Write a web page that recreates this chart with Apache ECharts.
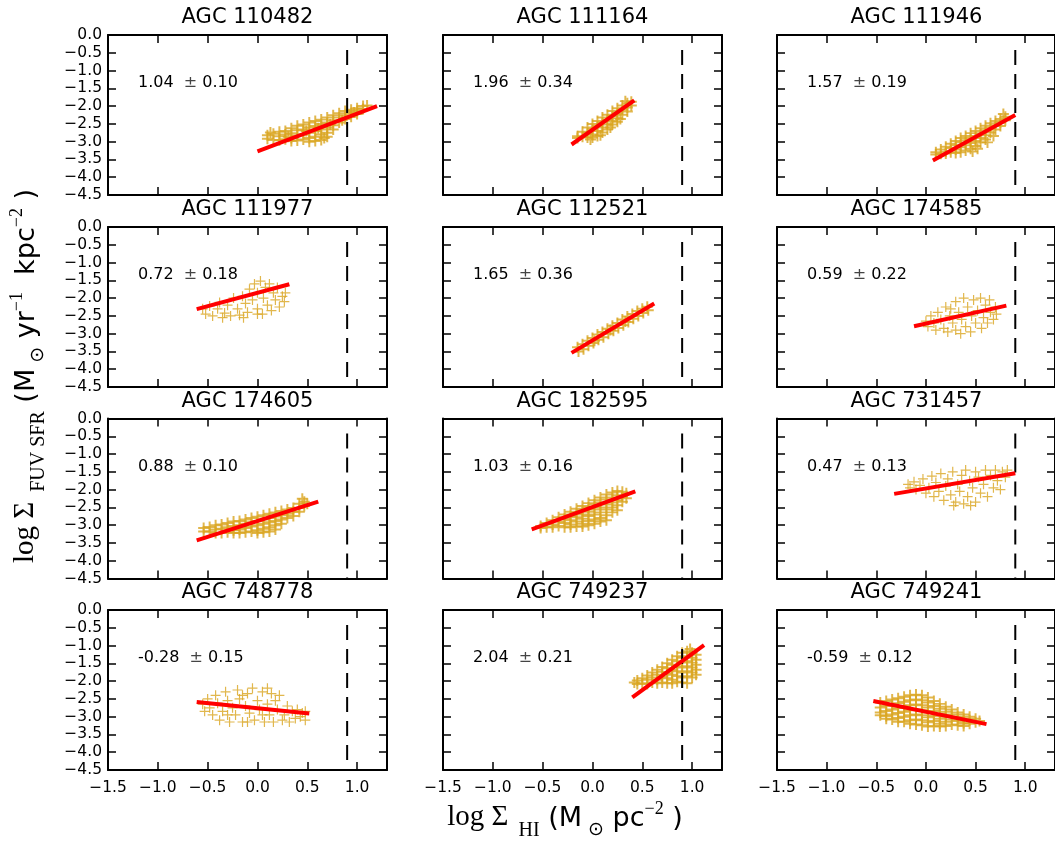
<!DOCTYPE html>
<html><head><meta charset="utf-8">
<script src="https://cdn.jsdelivr.net/npm/echarts@6/dist/echarts.min.js"></script>
<style>html,body{margin:0;padding:0;background:#fff}#c{width:1055px;height:846px}</style>
</head><body><div id="c"></div><script>
// ---------------- DATA ----------------
const galaxyNames = ['AGC 110482','AGC 111164','AGC 111946','AGC 111977','AGC 112521','AGC 174585',
  'AGC 174605','AGC 182595','AGC 731457','AGC 748778','AGC 749237','AGC 749241'];
const slopeValue = ['1.04','1.96','1.57','0.72','1.65','0.59','0.88','1.03','0.47','-0.28','2.04','-0.59'];
const slopeError = ['0.10','0.34','0.19','0.18','0.36','0.22','0.10','0.16','0.13','0.15','0.21','0.12'];
const fitX0 = [0.0,-0.21,0.07,-0.61,-0.21,-0.12,-0.61,-0.61,-0.32,-0.61,0.40,-0.53];
const fitY0 = [-3.27,-3.08,-3.53,-2.31,-3.54,-2.79,-3.43,-3.12,-2.12,-2.59,-2.46,-2.56];
const fitX1 = [1.20,0.42,0.90,0.32,0.62,0.81,0.61,0.43,0.90,0.52,1.12,0.61];
const fitY1 = [-2.00,-1.84,-2.25,-1.61,-2.15,-2.21,-2.34,-2.05,-1.54,-2.91,-0.99,-3.21];
const vlineX = 0.9;
const vlineY = [-0.42, -4.5];
const xTicks = [-1.5, 1.3, 0.5];   // min, max, step
const yTicks = [-4.5, 0.0, 0.5];

const pts110482 = [[0.1,-2.82],[0.1,-2.92],[0.16,-2.78],[0.16,-2.95],[0.22,-2.72],[0.22,-2.85],[0.22,-2.96],[0.28,-2.7],[0.28,-2.8],[0.28,-2.93],[0.34,-2.62],[0.34,-2.76],[0.34,-2.9],[0.34,-2.98],[0.4,-2.55],[0.4,-2.68],[0.4,-2.82],[0.4,-2.97],[0.46,-2.52],[0.46,-2.66],[0.46,-2.8],[0.46,-2.94],[0.52,-2.46],[0.52,-2.6],[0.52,-2.75],[0.52,-2.9],[0.52,-3.0],[0.58,-2.42],[0.58,-2.56],[0.58,-2.7],[0.58,-2.86],[0.58,-2.98],[0.64,-2.38],[0.64,-2.5],[0.64,-2.66],[0.64,-2.8],[0.64,-2.95],[0.7,-2.32],[0.7,-2.46],[0.7,-2.6],[0.7,-2.75],[0.7,-2.86],[0.76,-2.26],[0.76,-2.4],[0.76,-2.54],[0.76,-2.66],[0.82,-2.2],[0.82,-2.32],[0.82,-2.46],[0.88,-2.14],[0.88,-2.26],[0.88,-2.36],[0.94,-2.1],[0.94,-2.2],[0.94,-2.3],[1.0,-2.06],[1.0,-2.14],[1.0,-2.22],[1.06,-2.0],[1.06,-2.08],[1.1,-1.98],[0.13,-2.74],[0.31,-2.86],[0.49,-2.7],[0.61,-2.62],[0.67,-2.9],[0.73,-2.52],[0.85,-2.4],[0.97,-2.18]];
const pts111164 = [[-0.15,-2.85],[-0.15,-2.9],[-0.1,-2.72],[-0.1,-2.86],[-0.05,-2.6],[-0.05,-2.75],[-0.05,-2.88],[0.0,-2.5],[0.0,-2.64],[0.0,-2.8],[0.0,-2.88],[0.05,-2.42],[0.05,-2.56],[0.05,-2.7],[0.05,-2.84],[0.1,-2.32],[0.1,-2.46],[0.1,-2.6],[0.1,-2.74],[0.15,-2.24],[0.15,-2.38],[0.15,-2.52],[0.15,-2.66],[0.2,-2.14],[0.2,-2.28],[0.2,-2.42],[0.2,-2.52],[0.25,-2.06],[0.25,-2.2],[0.25,-2.34],[0.25,-2.44],[0.3,-1.98],[0.3,-2.1],[0.3,-2.24],[0.35,-1.92],[0.35,-2.04],[0.35,-2.15],[0.39,-1.88],[0.39,-1.98],[-0.02,-2.94],[0.08,-2.82],[0.18,-2.6],[0.28,-2.36],[0.33,-1.86]];
const pts111946 = [[0.1,-3.3],[0.1,-3.36],[0.15,-3.22],[0.15,-3.34],[0.2,-3.14],[0.2,-3.28],[0.2,-3.33],[0.25,-3.06],[0.25,-3.18],[0.25,-3.3],[0.3,-2.98],[0.3,-3.1],[0.3,-3.22],[0.3,-3.32],[0.35,-2.9],[0.35,-3.02],[0.35,-3.16],[0.35,-3.3],[0.4,-2.84],[0.4,-2.96],[0.4,-3.1],[0.4,-3.25],[0.45,-2.76],[0.45,-2.9],[0.45,-3.04],[0.45,-3.2],[0.5,-2.7],[0.5,-2.84],[0.5,-2.98],[0.5,-3.12],[0.55,-2.62],[0.55,-2.76],[0.55,-2.9],[0.55,-3.02],[0.6,-2.55],[0.6,-2.68],[0.6,-2.82],[0.6,-2.94],[0.65,-2.48],[0.65,-2.6],[0.65,-2.74],[0.7,-2.42],[0.7,-2.54],[0.7,-2.66],[0.75,-2.36],[0.75,-2.46],[0.75,-2.56],[0.8,-2.3],[0.8,-2.4],[0.47,-3.28],[0.52,-3.2],[0.62,-3.02],[0.68,-2.84],[0.78,-2.22]];
const pts111977 = [[-0.55,-2.3],[-0.52,-2.45],[-0.48,-2.22],[-0.45,-2.5],[-0.4,-2.3],[-0.38,-2.12],[-0.33,-2.42],[-0.3,-2.2],[-0.27,-2.5],[-0.24,-2.0],[-0.2,-2.3],[-0.18,-2.48],[-0.15,-1.95],[-0.12,-2.15],[-0.1,-2.4],[-0.08,-1.75],[-0.05,-2.05],[-0.03,-1.6],[0.0,-2.3],[0.0,-1.85],[0.03,-1.52],[0.05,-2.45],[0.06,-2.0],[0.08,-1.7],[0.1,-2.2],[0.12,-1.6],[0.14,-2.35],[0.16,-1.85],[0.18,-2.05],[0.2,-1.7],[0.22,-2.25],[0.25,-1.95],[0.27,-2.1],[0.28,-1.85],[-0.35,-2.55],[0.0,-2.45],[-0.14,-2.55]];
const pts112521 = [[-0.15,-3.38],[-0.14,-3.5],[-0.1,-3.3],[-0.09,-3.44],[-0.05,-3.2],[-0.04,-3.34],[0.0,-3.12],[0.01,-3.26],[0.05,-3.02],[0.06,-3.17],[0.1,-2.95],[0.11,-3.1],[0.15,-2.86],[0.16,-3.0],[0.2,-2.78],[0.21,-2.92],[0.25,-2.7],[0.26,-2.84],[0.3,-2.6],[0.31,-2.76],[0.35,-2.52],[0.36,-2.67],[0.4,-2.45],[0.41,-2.58],[0.45,-2.36],[0.46,-2.5],[0.5,-2.3],[0.51,-2.42],[0.55,-2.24],[0.56,-2.34],[0.02,-3.2],[0.18,-2.9],[0.33,-2.66]];
const pts174585 = [[0.0,-2.65],[0.02,-2.8],[0.05,-2.5],[0.08,-2.7],[0.1,-2.9],[0.12,-2.4],[0.15,-2.6],[0.18,-2.85],[0.2,-2.25],[0.22,-2.95],[0.24,-2.5],[0.27,-2.7],[0.3,-2.1],[0.3,-2.9],[0.33,-2.4],[0.36,-2.6],[0.38,-2.0],[0.4,-2.8],[0.42,-2.25],[0.45,-2.95],[0.46,-2.5],[0.48,-2.05],[0.5,-2.7],[0.52,-2.35],[0.55,-2.0],[0.56,-2.85],[0.58,-2.55],[0.6,-2.2],[0.62,-2.7],[0.64,-2.05],[0.65,-2.4],[0.68,-2.6],[0.7,-2.25],[0.71,-2.45],[0.35,-3.0],[0.25,-2.3]];
const pts174605 = [[-0.54,-3.08],[-0.54,-3.18],[-0.48,-3.05],[-0.48,-3.18],[-0.42,-3.0],[-0.42,-3.12],[-0.42,-3.22],[-0.36,-2.98],[-0.36,-3.1],[-0.36,-3.22],[-0.3,-2.94],[-0.3,-3.06],[-0.3,-3.2],[-0.24,-2.9],[-0.24,-3.02],[-0.24,-3.14],[-0.24,-3.22],[-0.18,-2.88],[-0.18,-3.0],[-0.18,-3.12],[-0.18,-3.22],[-0.12,-2.84],[-0.12,-2.96],[-0.12,-3.08],[-0.12,-3.2],[-0.06,-2.8],[-0.06,-2.92],[-0.06,-3.04],[-0.06,-3.18],[0.0,-2.76],[0.0,-2.88],[0.0,-3.0],[0.0,-3.14],[0.0,-3.22],[0.06,-2.72],[0.06,-2.84],[0.06,-2.96],[0.06,-3.1],[0.06,-3.2],[0.12,-2.68],[0.12,-2.8],[0.12,-2.92],[0.12,-3.06],[0.12,-3.18],[0.18,-2.64],[0.18,-2.76],[0.18,-2.88],[0.18,-3.0],[0.18,-3.12],[0.24,-2.6],[0.24,-2.72],[0.24,-2.84],[0.24,-2.96],[0.3,-2.56],[0.3,-2.68],[0.3,-2.8],[0.36,-2.52],[0.36,-2.62],[0.36,-2.74],[0.42,-2.4],[0.42,-2.52],[0.42,-2.62],[0.47,-2.34],[0.47,-2.46],[0.5,-2.4],[0.45,-2.26]];
const pts182595 = [[-0.52,-3.02],[-0.52,-3.08],[-0.46,-2.94],[-0.46,-3.06],[-0.4,-2.86],[-0.4,-2.98],[-0.4,-3.06],[-0.34,-2.78],[-0.34,-2.9],[-0.34,-3.02],[-0.28,-2.7],[-0.28,-2.82],[-0.28,-2.94],[-0.28,-3.06],[-0.22,-2.62],[-0.22,-2.74],[-0.22,-2.86],[-0.22,-2.98],[-0.22,-3.06],[-0.16,-2.54],[-0.16,-2.66],[-0.16,-2.78],[-0.16,-2.9],[-0.16,-3.04],[-0.1,-2.46],[-0.1,-2.58],[-0.1,-2.7],[-0.1,-2.82],[-0.1,-2.96],[-0.1,-3.04],[-0.04,-2.38],[-0.04,-2.5],[-0.04,-2.62],[-0.04,-2.74],[-0.04,-2.88],[-0.04,-3.0],[0.02,-2.3],[0.02,-2.42],[0.02,-2.56],[0.02,-2.7],[0.02,-2.84],[0.02,-2.96],[0.08,-2.22],[0.08,-2.36],[0.08,-2.5],[0.08,-2.64],[0.08,-2.8],[0.08,-2.9],[0.14,-2.14],[0.14,-2.28],[0.14,-2.42],[0.14,-2.56],[0.14,-2.72],[0.14,-2.86],[0.2,-2.08],[0.2,-2.22],[0.2,-2.36],[0.2,-2.5],[0.2,-2.64],[0.25,-2.04],[0.25,-2.16],[0.25,-2.3],[0.25,-2.44],[0.25,-2.58],[0.3,-2.06],[0.3,-2.2],[0.3,-2.34],[0.34,-2.1],[0.34,-2.24]];
const pts731457 = [[-0.18,-1.85],[-0.16,-1.95],[-0.12,-1.78],[-0.1,-2.0],[-0.06,-1.88],[-0.03,-1.7],[0.0,-2.1],[0.03,-1.95],[0.06,-1.62],[0.08,-2.2],[0.1,-1.8],[0.13,-2.05],[0.15,-1.55],[0.18,-2.3],[0.2,-1.9],[0.22,-1.7],[0.25,-2.15],[0.27,-1.5],[0.3,-2.35],[0.32,-1.85],[0.34,-2.05],[0.36,-1.6],[0.38,-2.4],[0.4,-1.45],[0.42,-2.2],[0.44,-1.75],[0.47,-1.95],[0.5,-2.35],[0.5,-1.5],[0.53,-1.65],[0.55,-2.1],[0.58,-1.85],[0.6,-1.45],[0.62,-2.2],[0.65,-1.6],[0.68,-1.95],[0.7,-1.45],[0.72,-1.75],[0.75,-2.0],[0.77,-1.5],[0.8,-1.65],[0.82,-1.45],[0.45,-2.45],[0.28,-2.45]];
const pts748778 = [[-0.55,-2.65],[-0.53,-2.85],[-0.5,-2.5],[-0.48,-2.75],[-0.45,-2.95],[-0.42,-2.4],[-0.4,-2.62],[-0.38,-3.1],[-0.35,-2.85],[-0.32,-2.3],[-0.3,-2.55],[-0.28,-3.15],[-0.25,-2.75],[-0.22,-2.95],[-0.2,-2.25],[-0.18,-2.5],[-0.15,-3.15],[-0.12,-2.7],[-0.1,-2.35],[-0.08,-2.9],[-0.05,-2.2],[-0.03,-3.1],[0.0,-2.55],[0.02,-2.8],[0.05,-2.3],[0.07,-3.15],[0.1,-2.65],[0.12,-2.95],[0.14,-2.35],[0.16,-3.15],[0.18,-2.55],[0.2,-2.8],[0.22,-2.4],[0.25,-3.1],[0.27,-2.95],[0.3,-2.7],[0.32,-3.15],[0.35,-2.85],[0.38,-3.05],[0.4,-2.8],[0.43,-3.0],[0.45,-2.9],[0.48,-3.1],[0.48,-2.85],[-0.1,-3.15],[-0.3,-2.95],[0.1,-2.2],[-0.15,-2.4],[0.05,-2.95]];
const pts749237 = [[0.45,-1.98],[0.45,-2.08],[0.5,-1.92],[0.5,-2.06],[0.55,-1.84],[0.55,-1.96],[0.55,-2.08],[0.6,-1.76],[0.6,-1.9],[0.6,-2.04],[0.65,-1.68],[0.65,-1.82],[0.65,-1.96],[0.65,-2.06],[0.7,-1.6],[0.7,-1.74],[0.7,-1.88],[0.7,-2.04],[0.75,-1.5],[0.75,-1.64],[0.75,-1.78],[0.75,-1.92],[0.75,-2.06],[0.8,-1.4],[0.8,-1.54],[0.8,-1.68],[0.8,-1.82],[0.8,-1.96],[0.8,-2.06],[0.85,-1.3],[0.85,-1.44],[0.85,-1.58],[0.85,-1.72],[0.85,-1.86],[0.85,-2.02],[0.9,-1.2],[0.9,-1.34],[0.9,-1.48],[0.9,-1.62],[0.9,-1.76],[0.9,-1.9],[0.9,-2.04],[0.95,-1.16],[0.95,-1.3],[0.95,-1.44],[0.95,-1.58],[0.95,-1.72],[0.95,-1.86],[0.95,-2.06],[1.0,-1.2],[1.0,-1.34],[1.0,-1.48],[1.0,-1.62],[1.0,-1.76],[1.0,-1.9],[1.04,-1.26],[1.04,-1.4],[1.04,-1.54],[1.04,-1.68],[1.04,-1.82],[0.42,-2.04],[0.98,-1.1]];
const pts749241 = [[-0.46,-2.6],[-0.46,-2.74],[-0.46,-2.88],[-0.46,-2.96],[-0.4,-2.56],[-0.4,-2.7],[-0.4,-2.84],[-0.4,-2.98],[-0.4,-3.06],[-0.34,-2.52],[-0.34,-2.66],[-0.34,-2.8],[-0.34,-2.94],[-0.34,-3.08],[-0.28,-2.48],[-0.28,-2.62],[-0.28,-2.76],[-0.28,-2.9],[-0.28,-3.04],[-0.28,-3.14],[-0.22,-2.44],[-0.22,-2.58],[-0.22,-2.72],[-0.22,-2.86],[-0.22,-3.0],[-0.22,-3.14],[-0.16,-2.4],[-0.16,-2.54],[-0.16,-2.68],[-0.16,-2.82],[-0.16,-2.96],[-0.16,-3.1],[-0.16,-3.2],[-0.1,-2.38],[-0.1,-2.52],[-0.1,-2.66],[-0.1,-2.8],[-0.1,-2.94],[-0.1,-3.08],[-0.1,-3.22],[-0.04,-2.4],[-0.04,-2.54],[-0.04,-2.68],[-0.04,-2.82],[-0.04,-2.96],[-0.04,-3.1],[-0.04,-3.24],[0.02,-2.46],[0.02,-2.6],[0.02,-2.74],[0.02,-2.88],[0.02,-3.02],[0.02,-3.16],[0.02,-3.28],[0.08,-2.56],[0.08,-2.7],[0.08,-2.84],[0.08,-2.98],[0.08,-3.12],[0.08,-3.26],[0.14,-2.64],[0.14,-2.78],[0.14,-2.92],[0.14,-3.06],[0.14,-3.2],[0.14,-3.28],[0.2,-2.72],[0.2,-2.86],[0.2,-3.0],[0.2,-3.14],[0.2,-3.26],[0.26,-2.8],[0.26,-2.94],[0.26,-3.08],[0.26,-3.22],[0.32,-2.88],[0.32,-3.0],[0.32,-3.12],[0.32,-3.24],[0.38,-2.94],[0.38,-3.06],[0.38,-3.18],[0.38,-3.26],[0.44,-3.0],[0.44,-3.1],[0.44,-3.2],[0.5,-3.06],[0.5,-3.16],[0.54,-3.12]];
const panelPoints = [pts110482,pts111164,pts111946,pts111977,pts112521,pts174585,
  pts174605,pts182595,pts731457,pts748778,pts749237,pts749241];

// ---------------- LAYOUT ----------------
const colLeft = [108, 443, 777];
const rowTop = [35, 227, 418.5, 610];
const PW = 279, PH = 160;
const SANS = '"DejaVu Sans"';
const SERIF = '"Liberation Serif"';
const plusThin = 'path://M4.4,0H5.6V4.4H10V5.6H5.6V10H4.4V5.6H0V4.4H4.4Z';
const plusThick = 'path://M4.1,0H5.9V4.1H10V5.9H5.9V10H4.1V5.9H0V4.1H4.1Z';
const sparsePanel = [false,false,false,true,false,true,false,false,true,true,false,false];
const fmt = v => (Math.abs(v) < 1e-9 ? 0 : v).toFixed(1).replace('-', '\u2212');

const mctx = document.createElement('canvas').getContext('2d');
function mw(text, font) { mctx.font = font; return mctx.measureText(text).width; }
function buildLabel(segs, gx, gy, rot, anchor) {
  let x = 0; const kids = [];
  segs.forEach(s => {
    const font = s.size + 'px ' + s.family;
    kids.push({type: 'text', x: x, y: (s.dy || 0) - 0.35 * s.size, silent: true,
      style: {text: s.text, font: font, fill: s.color || '#000',
        align: 'left', textAlign: 'left', verticalAlign: 'middle', textVerticalAlign: 'middle'}});
    x += mw(s.text, font);
  });
  if (anchor === 'center') kids.forEach(k => { k.x -= x / 2; });
  return {type: 'group', x: gx, y: gy, rotation: rot || 0, children: kids};
}

const grids = [], xAxes = [], yAxes = [], series = [], graphics = [];
const axisLine = {show: true, onZero: false, lineStyle: {color: '#000', width: 2}};
const axisTick = {show: true, inside: true, length: 8, lineStyle: {color: '#000', width: 1.5}};

for (let i = 0; i < 12; i++) {
  const r = Math.floor(i / 3), c = i % 3;
  grids.push({left: colLeft[c], top: rowTop[r], width: PW, height: PH, containLabel: false});
  const xBase = {type: 'value', gridIndex: i, min: xTicks[0], max: xTicks[1], interval: xTicks[2],
    splitLine: {show: false}, axisLine: axisLine, axisTick: axisTick};
  xAxes.push(Object.assign({}, xBase, {position: 'bottom',
    axisLabel: {show: r === 3, showMaxLabel: false, margin: 10, color: '#000', fontSize: 15.5,
      fontFamily: SANS, formatter: fmt}}));
  xAxes.push(Object.assign({}, xBase, {position: 'top', axisLabel: {show: false}}));
  const yBase = {type: 'value', gridIndex: i, min: yTicks[0], max: yTicks[1], interval: yTicks[2],
    splitLine: {show: false}, axisLine: axisLine, axisTick: axisTick};
  yAxes.push(Object.assign({}, yBase, {position: 'left',
    axisLabel: {show: c === 0, margin: 6, color: '#000', fontSize: 15.5, fontFamily: SANS, formatter: fmt}}));
  yAxes.push(Object.assign({}, yBase, {position: 'right', axisLabel: {show: false}}));

  series.push({type: 'scatter', xAxisIndex: 2 * i, yAxisIndex: 2 * i, data: panelPoints[i],
    symbol: sparsePanel[i] ? plusThin : plusThick, symbolSize: sparsePanel[i] ? 10 : 11,
    itemStyle: {color: '#DAA520'}, silent: true, z: 2});
  series.push({type: 'line', xAxisIndex: 2 * i, yAxisIndex: 2 * i,
    data: [[vlineX, vlineY[0]], [vlineX, vlineY[1]]], symbol: 'none', silent: true, z: 3,
    lineStyle: {color: '#000', width: 2, type: [15, 9]}});
  series.push({type: 'line', xAxisIndex: 2 * i, yAxisIndex: 2 * i,
    data: [[fitX0[i], fitY0[i]], [fitX1[i], fitY1[i]]], symbol: 'none', silent: true, z: 4,
    lineStyle: {color: '#ff0000', width: 4, cap: 'butt'}});

  graphics.push({type: 'text', x: colLeft[c] + PW / 2, y: rowTop[r] - 17, silent: true,
    style: {text: galaxyNames[i], font: '21px ' + SANS, fill: '#000',
      align: 'center', textAlign: 'center', verticalAlign: 'middle', textVerticalAlign: 'middle'}});
  graphics.push(buildLabel([
    {text: slopeValue[i] + '  ', size: 16, family: SANS},
    {text: '\u00b1', size: 16, family: SANS, color: '#444'},
    {text: ' ' + slopeError[i], size: 16, family: SANS}
  ], colLeft[c] + 30, rowTop[r] + 48 + 5.6, 0, 'left'));
}

// axis titles
graphics.push(buildLabel([
  {text: 'log \u03a3', size: 29, family: SERIF},
  {text: '  HI', size: 20, family: SERIF, dy: 10},
  {text: ' (M', size: 27, family: SANS},
  {text: ' \u2299', size: 19, family: SANS, dy: 9},
  {text: ' pc', size: 27, family: SANS},
  {text: '\u22122', size: 18, family: SERIF, dy: -12},
  {text: ' )', size: 27, family: SANS}
], 565, 828, 0, 'center'));
graphics.push(buildLabel([
  {text: 'log \u03a3', size: 29, family: SERIF},
  {text: '  FUV SFR', size: 20, family: SERIF, dy: 10},
  {text: ' (M', size: 27, family: SANS},
  {text: ' \u2299', size: 19, family: SANS, dy: 9},
  {text: ' yr', size: 27, family: SANS},
  {text: '\u22121', size: 18, family: SERIF, dy: -12},
  {text: '  kpc', size: 27, family: SANS},
  {text: '\u22122', size: 18, family: SERIF, dy: -12},
  {text: ' )', size: 27, family: SANS}
], 36, 376, Math.PI / 2, 'center'));

const chart = echarts.init(document.getElementById('c'), null, {renderer: 'canvas'});
chart.setOption({
  animation: false,
  backgroundColor: '#fff',
  grid: grids, xAxis: xAxes, yAxis: yAxes, series: series, graphic: graphics
});
</script></body></html>
